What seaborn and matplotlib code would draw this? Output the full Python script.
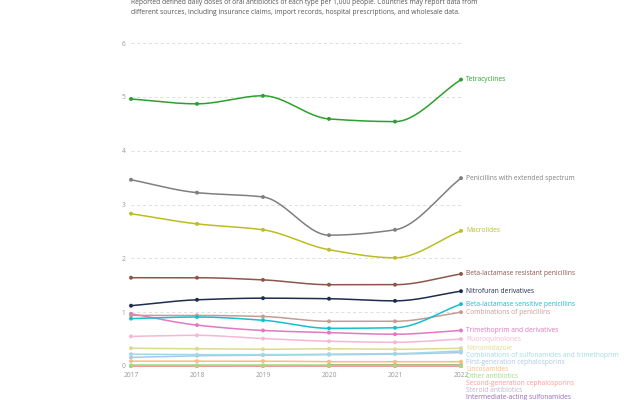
import numpy as np
import pandas as pd
import seaborn as sns
import matplotlib.pyplot as plt

# data (DDD per 1,000 people per day)
years = [2017, 2018, 2019, 2020, 2021, 2022]

tetracyclines = [4.96, 4.87, 5.02, 4.59, 4.54, 5.32]
penicillins_ext = [3.46, 3.22, 3.14, 2.43, 2.53, 3.49]
macrolides = [2.83, 2.64, 2.53, 2.16, 2.01, 2.51]
beta_resistant = [1.64, 1.64, 1.60, 1.51, 1.51, 1.71]
nitrofuran = [1.12, 1.23, 1.26, 1.25, 1.21, 1.39]
beta_sensitive = [0.88, 0.91, 0.85, 0.70, 0.71, 1.15]
comb_penicillins = [0.94, 0.94, 0.92, 0.83, 0.83, 1.00]
trimethoprim = [0.97, 0.76, 0.66, 0.62, 0.59, 0.66]
fluoroquinolones = [0.55, 0.57, 0.51, 0.46, 0.44, 0.50]
nitroimidazole = [0.33, 0.32, 0.31, 0.32, 0.31, 0.33]
comb_sulfonamides = [0.22, 0.21, 0.21, 0.22, 0.23, 0.28]
first_gen_ceph = [0.16, 0.19, 0.20, 0.21, 0.22, 0.25]
lincosamides = [0.09, 0.09, 0.09, 0.08, 0.08, 0.08]
other_antibiotics = [0.01, 0.01, 0.01, 0.01, 0.01, 0.01]
second_gen_ceph = [0.005, 0.005, 0.005, 0.005, 0.005, 0.005]
steroid = [0.0, 0.0, 0.0, 0.0, 0.0, 0.0]
intermediate_sulf = [0.0, 0.0, 0.0, 0.0, 0.0, 0.0]
third_gen_ceph = [np.nan, np.nan, np.nan, 0.015, 0.015, 0.015]

series = [
    ("Tetracyclines", tetracyclines, "#2ca02c"),
    ("Penicillins with extended spectrum", penicillins_ext, "#7f7f7f"),
    ("Macrolides", macrolides, "#bcbd22"),
    ("Beta-lactamase resistant penicillins", beta_resistant, "#8c564b"),
    ("Nitrofuran derivatives", nitrofuran, "#1c2d4e"),
    ("Beta-lactamase sensitive penicillins", beta_sensitive, "#17becf"),
    ("Combinations of penicillins", comb_penicillins, "#c49c94"),
    ("Trimethoprim and derivatives", trimethoprim, "#e377c2"),
    ("Fluoroquinolones", fluoroquinolones, "#f7b6d2"),
    ("Nitroimidazole", nitroimidazole, "#dbdb8d"),
    ("Combinations of sulfonamides and trimethoprim", comb_sulfonamides, "#9edae5"),
    ("First-generation cephalosporins", first_gen_ceph, "#aec7e8"),
    ("Lincosamides", lincosamides, "#ffbb78"),
    ("Other antibiotics", other_antibiotics, "#98df8a"),
    ("Second-generation cephalosporins", second_gen_ceph, "#ff9896"),
    ("Steroid antibiotics", steroid, "#c5b0d5"),
    ("Intermediate-acting sulfonamides", intermediate_sulf, "#9467bd"),
    ("Third-generation cephalosporins", third_gen_ceph, "#d62728"),
]

subtitle_lines = [
    "Reported defined daily doses of oral antibiotics of each type per 1,000 people. Countries may report data from",
    "different sources, including insurance claims, import records, hospital prescriptions, and wholesale data.",
]


def monotone(x, y, n=30):
    # monotone cubic (like d3 curveMonotoneX), only used to draw the line
    x = np.asarray(x, float)
    y = np.asarray(y, float)
    h = np.diff(x)
    d = np.diff(y) / h
    m = np.zeros_like(y)
    m[0], m[-1] = d[0], d[-1]
    for i in range(1, len(y) - 1):
        if d[i - 1] * d[i] <= 0:
            m[i] = 0
        else:
            m[i] = 3 * (h[i - 1] + h[i]) / ((2 * h[i] + h[i - 1]) / d[i - 1] + (h[i] + 2 * h[i - 1]) / d[i])
    xs, ys = [], []
    for i in range(len(h)):
        t = np.linspace(0, 1, n)
        h00 = 2 * t**3 - 3 * t**2 + 1
        h10 = t**3 - 2 * t**2 + t
        h01 = -2 * t**3 + 3 * t**2
        h11 = t**3 - t**2
        xs.append(x[i] + t * h[i])
        ys.append(h00 * y[i] + h10 * h[i] * m[i] + h01 * y[i + 1] + h11 * h[i] * m[i + 1])
    return np.concatenate(xs), np.concatenate(ys)


sns.set_theme(style="white")
plt.rcParams['font.family'] = ['Open Sans', 'DejaVu Sans']

fig = plt.figure(figsize=(6.4, 4), dpi=100)
ax = fig.add_axes([131 / 640, 34 / 400, 330 / 640, 323 / 400])

for v in range(1, 7):
    ax.axhline(v, color="#dddddd", lw=0.7, ls=(0, (3, 3)), zorder=0)

# draw from bottom to top so the big series sit on top
for name, vals, col in reversed(series):
    df = pd.DataFrame({"year": years, "value": vals}).dropna()
    if len(df) >= 2:
        cx, cy = monotone(df["year"], df["value"])
        sns.lineplot(x=cx, y=cy, color=col, lw=1.1, ax=ax, clip_on=False, sort=False)
    sns.scatterplot(data=df, x="year", y="value", color=col, s=8, edgecolor="none",
                    ax=ax, clip_on=False, zorder=5)

# end labels in series order, pushed down to avoid overlaps
gap = 0.13
prev = None
for name, vals, col in series:
    v = vals[-1]
    ypos = v if prev is None else min(v, prev - gap)
    prev = ypos
    ax.text(2022.08, ypos, name, color=col, fontsize=4.8, va="center", ha="left", clip_on=False)

ax.set_xlim(2017, 2022)
ax.set_ylim(0, 6)
ax.set_xticks(years)
ax.set_xticklabels([str(y) for y in years])
ax.set_yticks(range(0, 7))
ax.tick_params(axis="both", labelsize=4.8, colors="#999999", length=0, pad=4)
ax.set_xlabel("")
ax.set_ylabel("")
sns.despine(ax=ax, left=True, bottom=True)

for i, line in enumerate(subtitle_lines):
    fig.text(131 / 640, 1 - (3 + 9 * i) / 400, line, fontsize=4.9, color="#555555",
             ha="left", va="center")

fig.savefig("out.png", dpi=100)
